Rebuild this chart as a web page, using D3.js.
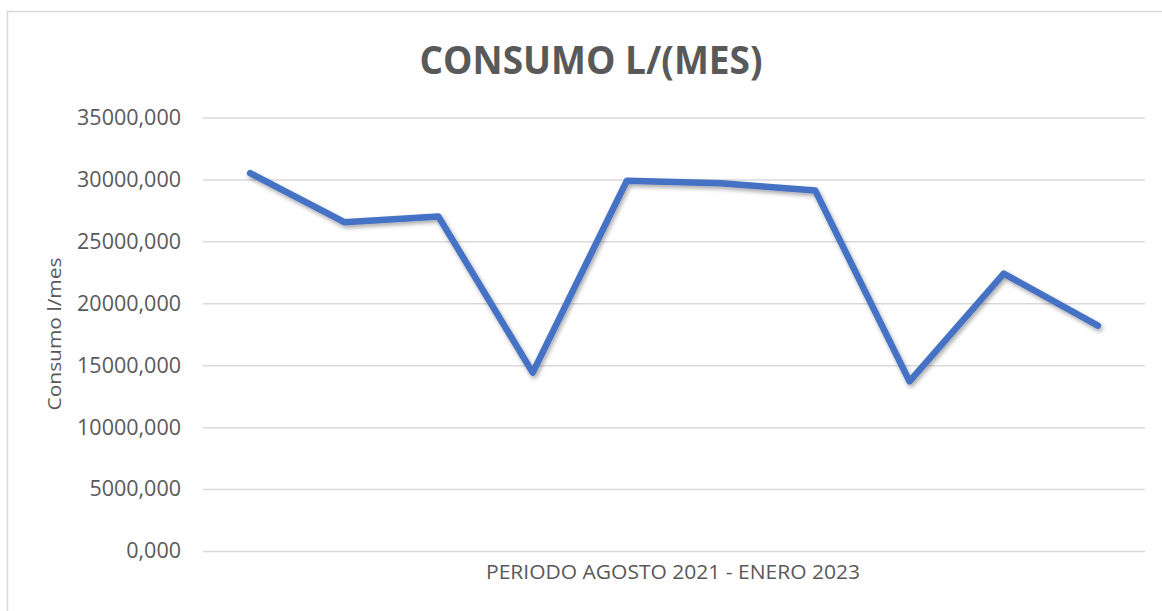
<!DOCTYPE html>
<html>
<head>
<meta charset="utf-8">
<script src="https://cdn.jsdelivr.net/npm/d3@7"></script>
<style>
  html, body { margin: 0; padding: 0; background: #fff; }
  svg { display: block; }
</style>
</head>
<body>
<div id="chart"></div>
<script>
// data
const months = ["1", "2", "3", "4", "5", "6", "7", "8", "9", "10"];
const consumo = [30500, 26550, 27000, 14400, 29900, 29700, 29100, 13700, 22400, 18200];
const yTicks = [0, 5000, 10000, 15000, 20000, 25000, 30000, 35000];

const titleText = "CONSUMO L/(MES)";
const yLabel = "Consumo l/mes";
const xLabel = "PERIODO AGOSTO 2021 - ENERO 2023";

const width = 1162, height = 611;
const plotLeft = 203, plotRight = 1145, plotTop = 117.5, plotBottom = 551;

const locale = d3.formatLocale({ decimal: ",", thousands: ".", grouping: [3] });
const fmt = locale.format(".3f");

const svg = d3.select("#chart")
    .append("svg")
    .attr("width", width)
    .attr("height", height)
    .attr("viewBox", [0, 0, width, height])
    .attr("font-family", "'Open Sans', sans-serif");

const defs = svg.append("defs");
defs.append("filter")
    .attr("id", "shadow")
    .attr("x", "-10%").attr("y", "-10%")
    .attr("width", "120%").attr("height", "130%")
    .append("feDropShadow")
    .attr("dx", 1.5)
    .attr("dy", 2.5)
    .attr("stdDeviation", 2)
    .attr("flood-color", "#000")
    .attr("flood-opacity", 0.35);

// chart frame
svg.append("rect")
    .attr("x", 7.5)
    .attr("y", 11.5)
    .attr("width", width)
    .attr("height", height)
    .attr("fill", "#fff")
    .attr("stroke", "#d9d9d9")
    .attr("stroke-width", 1.5);

const x = d3.scalePoint()
    .domain(months)
    .range([plotLeft, plotRight])
    .padding(0.5);

const y = d3.scaleLinear()
    .domain([0, 35000])
    .range([plotBottom, plotTop]);

const yAxis = d3.axisLeft(y)
    .tickValues(yTicks)
    .tickFormat(fmt)
    .tickSize(0)
    .tickPadding(22);

svg.append("g")
    .attr("transform", `translate(${plotLeft},0)`)
    .call(yAxis)
    .call(g => g.select(".domain").remove())
    .call(g => g.selectAll(".tick text")
        .attr("fill", "#595959")
        .attr("font-size", 21.5)
        .attr("font-family", "'Open Sans', sans-serif"))
    .call(g => g.selectAll(".tick line").clone()
        .attr("x2", plotRight - plotLeft)
        .attr("stroke", "#d9d9d9")
        .attr("stroke-width", 1.5));

// title
svg.append("text")
    .attr("x", 591)
    .attr("y", 74)
    .attr("text-anchor", "middle")
    .attr("font-size", 40)
    .attr("font-weight", "bold")
    .attr("fill", "#595959")
    .attr("textLength", 343)
    .attr("lengthAdjust", "spacingAndGlyphs")
    .text(titleText);

// y label
svg.append("text")
    .attr("transform", "translate(61,334) rotate(-90)")
    .attr("text-anchor", "middle")
    .attr("font-size", 19)
    .attr("fill", "#595959")
    .attr("textLength", 153)
    .attr("lengthAdjust", "spacingAndGlyphs")
    .text(yLabel);

// x label
svg.append("text")
    .attr("x", 673)
    .attr("y", 579)
    .attr("text-anchor", "middle")
    .attr("font-size", 20)
    .attr("fill", "#595959")
    .attr("textLength", 374)
    .attr("lengthAdjust", "spacingAndGlyphs")
    .text(xLabel);

const line = d3.line()
    .x((d, i) => x(months[i]))
    .y(d => y(d));

svg.append("path")
    .datum(consumo)
    .attr("fill", "none")
    .attr("stroke", "#4472C4")
    .attr("stroke-width", 6.5)
    .attr("stroke-linejoin", "round")
    .attr("stroke-linecap", "round")
    .attr("filter", "url(#shadow)")
    .attr("d", line);
</script>
</body>
</html>
